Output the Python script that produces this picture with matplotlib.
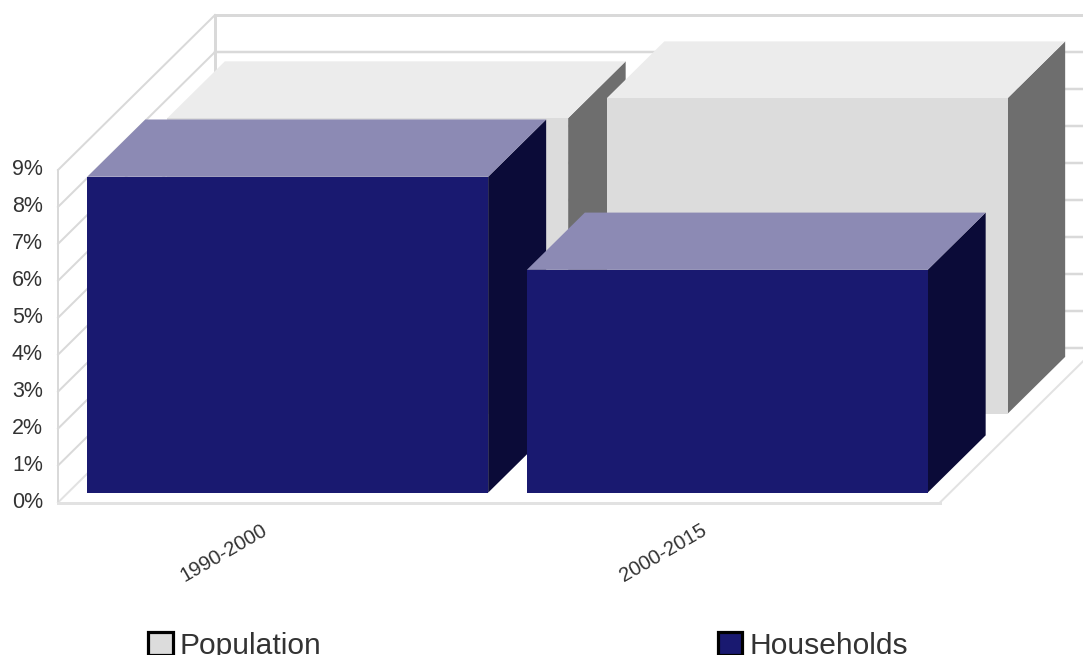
import matplotlib.pyplot as plt
from matplotlib.patches import Patch
from matplotlib.transforms import ScaledTranslation

plt.rcParams['font.family'] = ['Liberation Sans', 'DejaVu Sans']

# Data (percent)
periods = ['1990-2000', '2000-2015']
population = [8.0, 8.54]
households = [8.55, 6.03]
y_ticks = list(range(0, 10))

# Colours: front, top, side
pop_colors = ('#dcdcdc', '#ececec', '#6e6e6e')
hh_colors = ('#191970', '#8c8ab4', '#0b0b38')
grid_color = '#d9d9d9'
floor_color = '#e2e2e2'
text_color = '#333333'

W, H = 1083, 655
fig = plt.figure(figsize=(W / 100, H / 100), dpi=100)
ax = fig.add_axes([58 / W, (H - 502.5) / H, 879 / W, 332.5 / H])
ax.set_xlim(-0.5, 1.5)
ax.set_ylim(0, 9)

# 3D depth of the plot box in data units
wall_dx = 157 / (879 / 2)
wall_dy = 155 / (332.5 / 9)
bar_width = 0.912


def line(xs, ys, color=grid_color, px=2.0):
    ax.plot(xs, ys, color=color, lw=px * 0.72, clip_on=False, solid_capstyle='projecting', zorder=0)


def bar3d(x, value, near, far, colors):
    # near and far are fractions of the wall depth
    x0 = x - bar_width / 2 + near * wall_dx
    x1 = x + bar_width / 2 + near * wall_dx
    y0 = near * wall_dy
    y1 = y0 + value
    dx = (far - near) * wall_dx
    dy = (far - near) * wall_dy
    front, top, side = colors
    ax.fill([x1, x1 + dx, x1 + dx, x1], [y0, y0 + dy, y1 + dy, y1], color=side, lw=0, clip_on=False)
    ax.fill([x0, x1, x1 + dx, x0 + dx], [y1, y1, y1 + dy, y1 + dy], color=top, lw=0, clip_on=False)
    ax.fill([x0, x1, x1, x0], [y0, y0, y1, y1], color=front, lw=0, clip_on=False)


# Walls and floor
xl, xr = ax.get_xlim()
floor_right = xr + 3 / (879 / 2)
for t in y_ticks:
    line([xl, xl + wall_dx], [t, t + wall_dy], color=floor_color if t == 0 else grid_color)
    line([xl + wall_dx, floor_right + wall_dx], [t + wall_dy, t + wall_dy],
         px=3.0 if t == y_ticks[-1] else 2.5)
line([xl, xl], [0, y_ticks[-1]], px=2.0)
line([xl + wall_dx, xl + wall_dx], [wall_dy, y_ticks[-1] + wall_dy], px=3.0)
line([xl, floor_right], [0, 0], color=floor_color, px=3.0)
line([floor_right, floor_right + wall_dx], [0, wall_dy], color=floor_color, px=2.0)

# Bars, back row first
for i, v in enumerate(population):
    bar3d(i, v, 90 / 157, 147.5 / 157, pop_colors)
for i, v in enumerate(households):
    bar3d(i, v, 10 / 157, 68 / 157, hh_colors)

# Axis labels
for s in ax.spines.values():
    s.set_visible(False)
ax.patch.set_visible(False)
ax.set_yticks(y_ticks)
ax.set_yticklabels([f'{t}%' for t in y_ticks], fontsize=15.5, color=text_color)
ax.set_xticks(range(len(periods)))
ax.set_xticklabels(periods, fontsize=14.6, color=text_color, rotation=30, ha='right',
                   rotation_mode='anchor')
ax.tick_params(axis='y', length=0, pad=10.8)
ax.tick_params(axis='x', length=0, pad=13)
y_shift = ScaledTranslation(0, 3 / 100, fig.dpi_scale_trans)
for label in ax.get_yticklabels():
    label.set_transform(label.get_transform() + y_shift)
x_shift = ScaledTranslation(-17 / 100, 0, fig.dpi_scale_trans)
for label in ax.get_xticklabels():
    label.set_transform(label.get_transform() + x_shift)

# Legend
handles = [Patch(facecolor=pop_colors[0], edgecolor='black', lw=2.3),
           Patch(facecolor=hh_colors[0], edgecolor='black', lw=2.3)]
fig.legend(handles, ['Population', 'Households'], ncol=2, frameon=False, fontsize=21.6,
           loc='lower left', bbox_to_anchor=(148 / W, -5 / H), borderaxespad=0, borderpad=0,
           handlelength=0.83, handleheight=0.83, handletextpad=0.23, columnspacing=13.2,
           labelcolor=text_color)

fig.savefig('out.png', dpi=100)
